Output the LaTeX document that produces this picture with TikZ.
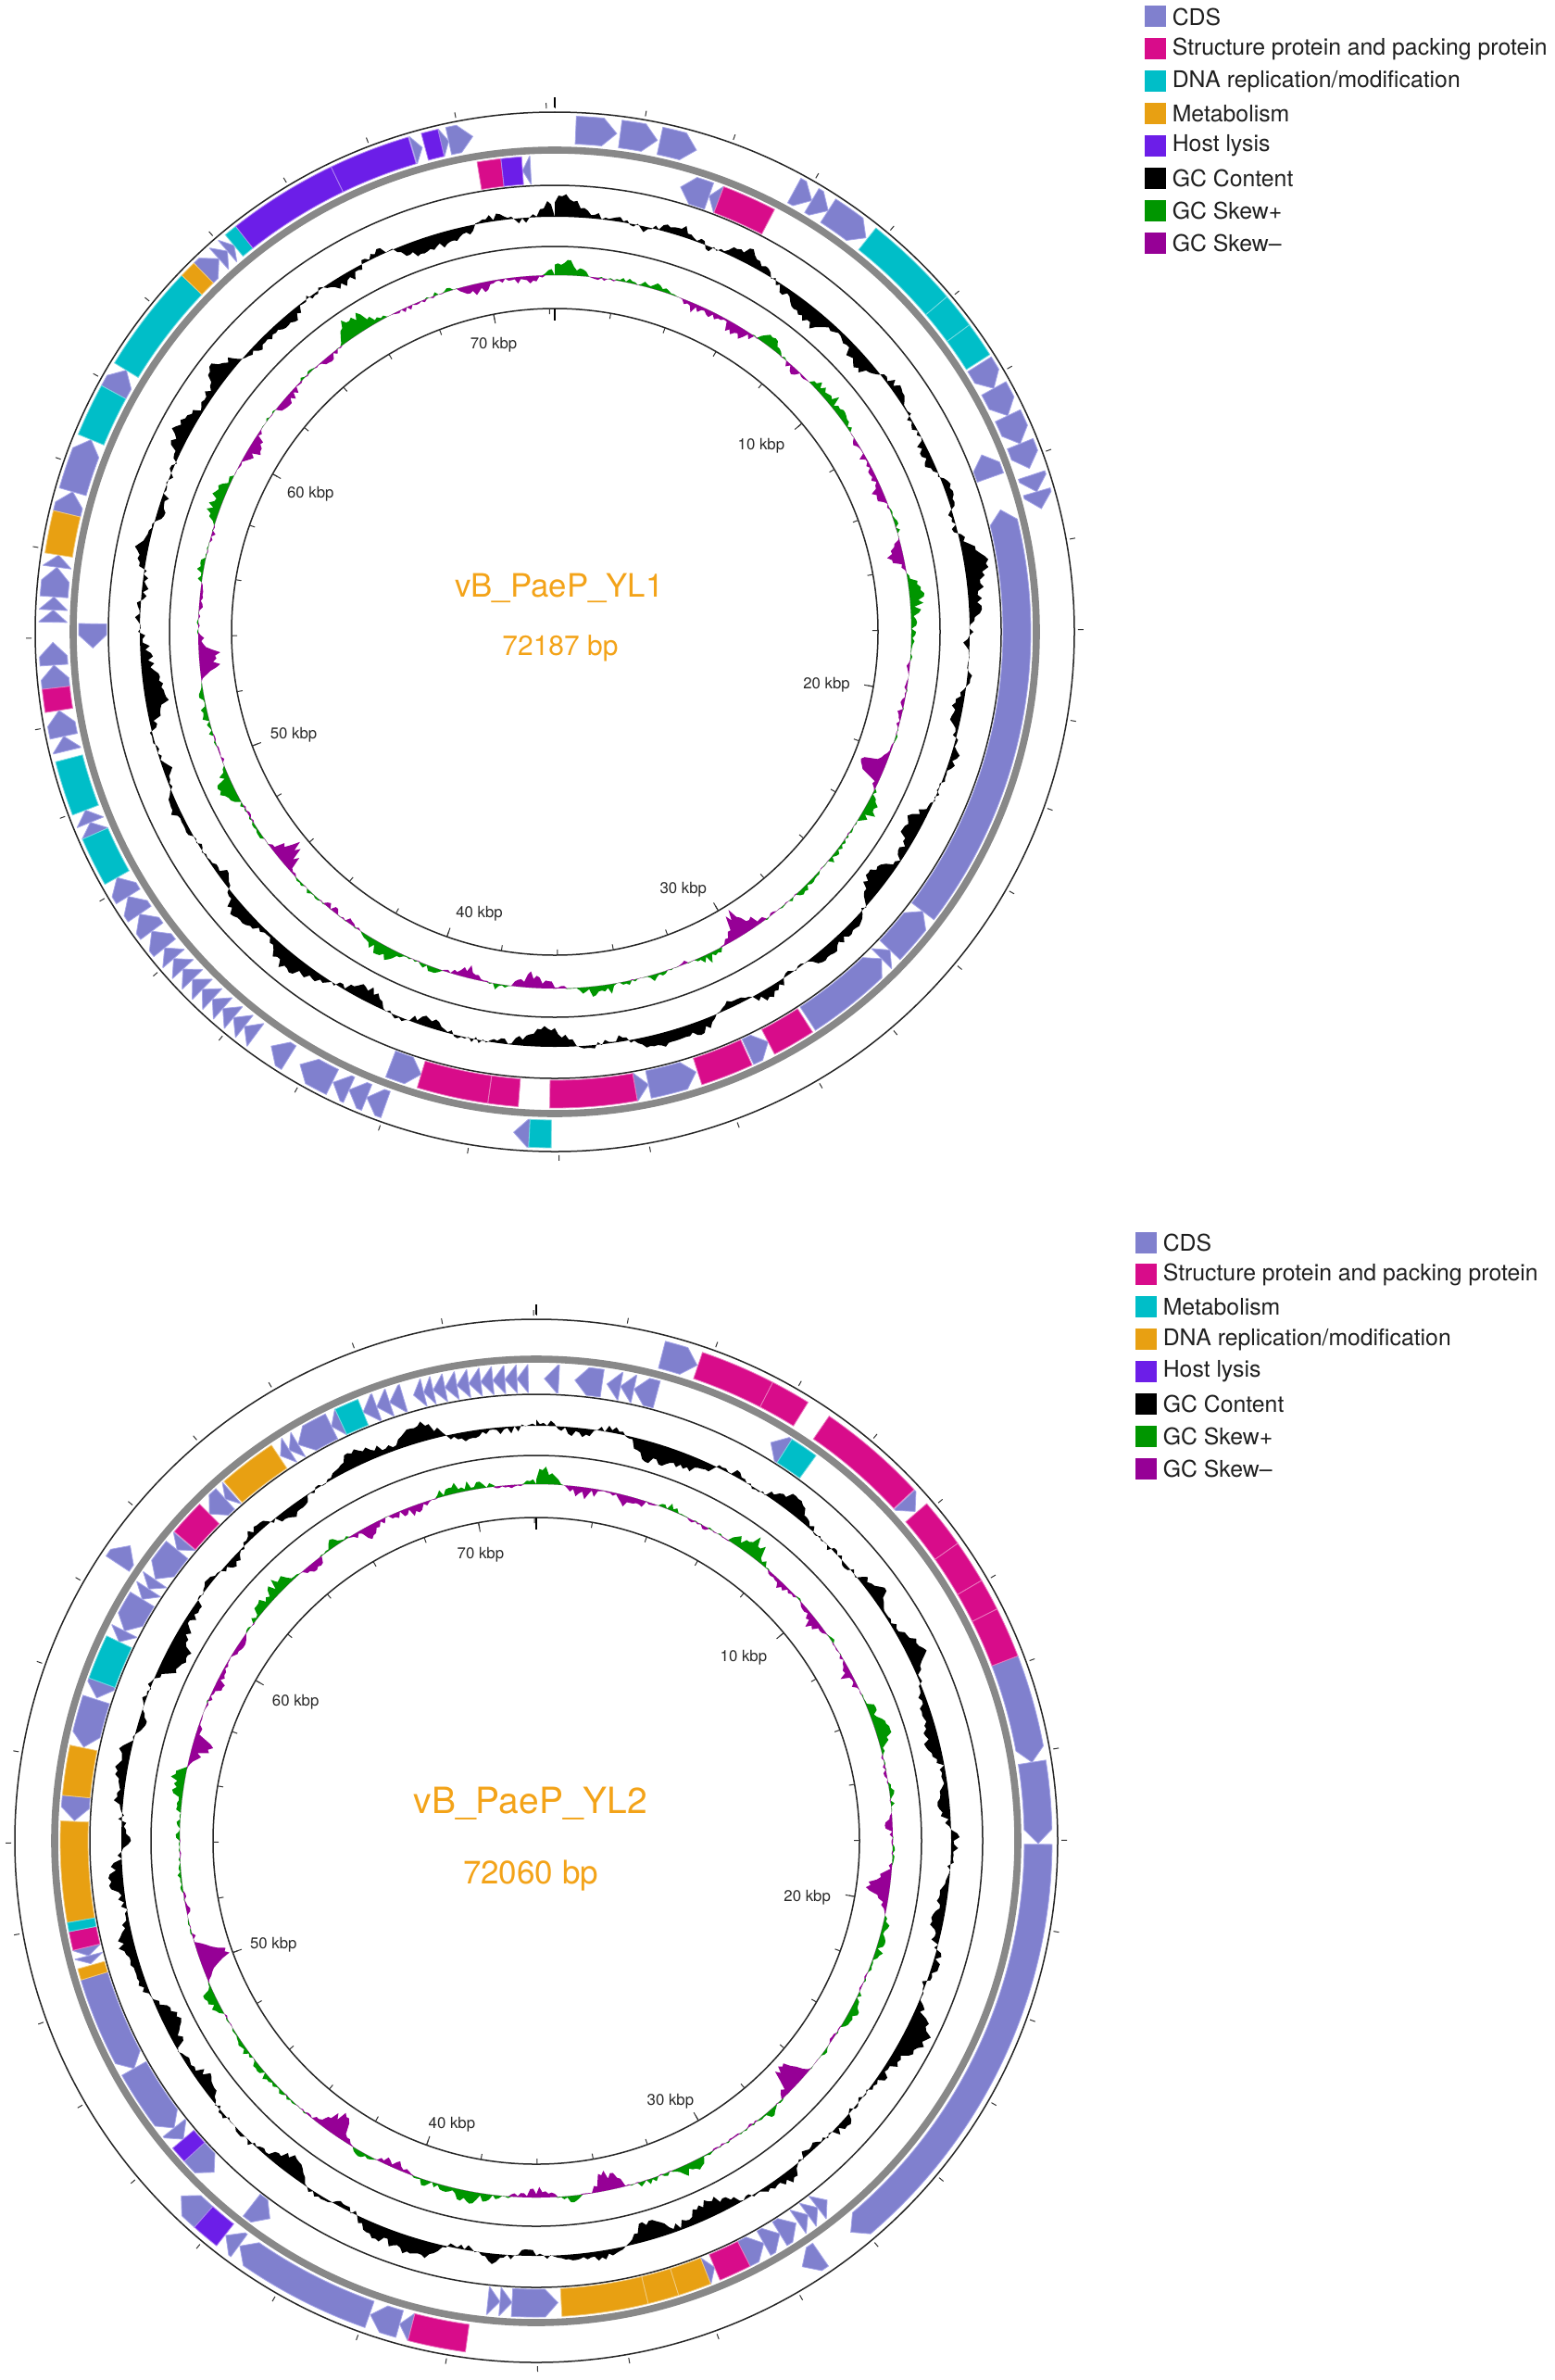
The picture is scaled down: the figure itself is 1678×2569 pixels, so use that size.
\documentclass[tikz,border=0pt]{standalone}
\usepackage{fontspec}
\setmainfont{TeX Gyre Heros}
\usetikzlibrary{positioning}

\definecolor{cdscol}{RGB}{128,128,206}
\definecolor{cdsedge}{RGB}{165,165,232}
\definecolor{strucol}{RGB}{216,12,138}
\definecolor{cyancol}{RGB}{0,190,200}
\definecolor{orangecol}{RGB}{232,160,18}
\definecolor{lysiscol}{RGB}{108,30,232}
\definecolor{skewp}{RGB}{0,150,0}
\definecolor{skewm}{RGB}{150,0,150}
\definecolor{titlecol}{RGB}{243,163,25}
\definecolor{bbgray}{RGB}{136,136,136}
\definecolor{labgray}{RGB}{40,40,40}

% ring radii (px)
\newcommand\rfi{527}\newcommand\rfo{557}\newcommand\rfm{542}
\newcommand\rri{484}\newcommand\rro{514}\newcommand\rrm{499}
\newcommand\headlen{1.6}

% forward CDS arrow, clockwise, from #1 to #2 degrees
\newcommand\fwdcds[2]{%
  \pgfmathsetmacro\ga{90-#1}\pgfmathsetmacro\gb{90-#2}%
  \pgfmathsetmacro\gc{90-max(#1+0.05,#2-\headlen)}%
  \filldraw[cdsgene] (\ga:\rfi) arc[start angle=\ga,end angle=\gc,radius=\rfi]
    -- (\gb:\rfm) -- (\gc:\rfo) arc[start angle=\gc,end angle=\ga,radius=\rfo] -- cycle;}
% reverse CDS arrow, head at #1
\newcommand\revcds[2]{%
  \pgfmathsetmacro\ga{90-#1}\pgfmathsetmacro\gb{90-#2}%
  \pgfmathsetmacro\gc{90-min(#2-0.05,#1+\headlen)}%
  \filldraw[cdsgene] (\gb:\rri) arc[start angle=\gb,end angle=\gc,radius=\rri]
    -- (\ga:\rrm) -- (\gc:\rro) arc[start angle=\gc,end angle=\gb,radius=\rro] -- cycle;}
\newcommand\fwdblock[3]{%
  \pgfmathsetmacro\ga{90-#1}\pgfmathsetmacro\gb{90-#2}%
  \filldraw[fill=#3,draw=#3!55!white,line width=0.4pt] (\ga:\rfi) arc[start angle=\ga,end angle=\gb,radius=\rfi]
    -- (\gb:\rfo) arc[start angle=\gb,end angle=\ga,radius=\rfo] -- cycle;}
\newcommand\revblock[3]{%
  \pgfmathsetmacro\ga{90-#1}\pgfmathsetmacro\gb{90-#2}%
  \filldraw[fill=#3,draw=#3!55!white,line width=0.4pt] (\ga:\rri) arc[start angle=\ga,end angle=\gb,radius=\rri]
    -- (\gb:\rro) arc[start angle=\gb,end angle=\ga,radius=\rro] -- cycle;}

\tikzset{
  cdsgene/.style={fill=cdscol,draw=cdsedge,line width=0.4pt},
  ring/.style={line width=0.75pt,draw=black!85},
  backbone/.style={line width=3.8pt,draw=bbgray},
  tickline/.style={line width=0.5pt,draw=black!80},
  bigtick/.style={line width=1.2pt,draw=black},
  kbplabel/.style={font=\fontsize{8.4}{10}\selectfont,text=labgray},
  legkey/.style={minimum size=11.5pt,inner sep=0pt},
  legtext/.style={font=\fontsize{12.4}{14}\selectfont,text=black!88,inner sep=0pt},
}

\begin{document}
\begin{tikzpicture}[x=0.5pt,y=0.5pt]
\useasboundingbox (0,0) rectangle (1678,-2569);

% ===== vB_PaeP_YL1 =====
\begin{scope}[shift={(599,-682)}]
  % GC content
  \pgfmathsetseed{3}
  \fill[black,even odd rule] (90:448) \foreach \i [evaluate=\i as \f using {sin(2.5*\i+40)+0.9*sin(6.5*\i+100)+0.7*sin(13.5*\i+20)+0.5*sin(20.5*\i+75)},
      evaluate=\i as \v using {448+7*\f+0.3*\f*\f*\f+4*rand}] in {0,...,719} { -- ({90-\i/2}:\v) } -- cycle (0,0) circle[radius=448];
  % GC skew
  \pgfmathsetseed{5}
  \fill[skewp,even odd rule] (90:385) \foreach \i [evaluate=\i as \g using {sin(4.5*\i+20)+0.8*sin(10.5*\i+70)+0.7*sin(15.5*\i+10)+0.5*sin(20*\i+50)},
      evaluate=\i as \v using {385+max(0,3.5*\g+0.8*\g*\g*\g+2*rand*(1+abs(\g)))}] in {0,...,719} { -- ({90-\i/2}:\v) } -- cycle (0,0) circle[radius=385];
  \pgfmathsetseed{5}
  \fill[skewm,even odd rule] (90:385) \foreach \i [evaluate=\i as \g using {sin(4.5*\i+20)+0.8*sin(10.5*\i+70)+0.7*sin(15.5*\i+10)+0.5*sin(20*\i+50)},
      evaluate=\i as \v using {385+min(0,3.5*\g+0.8*\g*\g*\g+2*rand*(1+abs(\g)))}] in {0,...,719} { -- ({90-\i/2}:\v) } -- cycle (0,0) circle[radius=385];

  \draw[ring] (0,0) circle[radius=561];
  \draw[ring] (0,0) circle[radius=482];
  \draw[ring] (0,0) circle[radius=416];
  \draw[ring] (0,0) circle[radius=349];
  \draw[backbone] (0,0) circle[radius=520];

  % ticks every 2 kbp
  \foreach \k in {0,...,36} {
    \draw[tickline] ({90-\k*9.97409}:565) -- ({90-\k*9.97409}:571);
    \draw[tickline] ({90-\k*9.97409}:349) -- ({90-\k*9.97409}:343);
  }
  \foreach \k in {5,10,...,35} \draw[tickline] ({90-\k*9.97409}:349) -- ({90-\k*9.97409}:339);
  \draw[bigtick] (90:566) -- (90:577);
  \draw[bigtick] (90:349) -- (90:336);
  \foreach \n/\t/\r in {10/48/300,20/101/299,30/153.5/311,40/195/315,50/248.5/303,60/299.5/303,70/348/317}
    \node[kbplabel] (ya\n) at ({90-\t}:\r) {\n{} kbp};

  % forward strand
  \foreach \a/\b in {2.4/7.1,7.5/11.8,12.1/16.4,28.5/30.8,30.8/33,33/38.3,57.8/61,61/64.5,64.5/68,68/71,71.8/73.8,73.8/75.8,
      182.9/184.7,199.7/202,202/204.2,204.2/206.2,206.3/210.5,212/214.4,216.6/218.2,218.2/219.8,219.8/221.4,221.4/223,
      223/224.6,224.6/226.2,226.2/227.8,227.8/229.4,229.4/231,231/233.4,233.4/235.8,235.8/238.2,238.2/240.7,246.3/247.7,
      247.7/249.2,256.3/258,258/261,263.6/266.2,266.2/268.8,271.1/272.5,272.5/274,274/277.4,277.4/278.8,283.6/286.2,
      286.2/292.5,298.5/301.4,315.6/318,318/319.3,319.3/320.3,343.6/344.7,346.9/347.8,347.8/350.6}
    {\fwdcds{\a}{\b}}
  \foreach \a/\b/\c in {38.5/49.5/cyancol,49.5/53.5/cyancol,53.5/57.5/cyancol,180.4/182.9/cyancol,240.7/246.3/cyancol,
      249.2/255.4/cyancol,292.5/298.5/cyancol,301.4/313.7/cyancol,320.3/321.8/cyancol,278.8/283.6/orangecol,
      313.7/315.6/orangecol,261/263.6/strucol,321.8/334.3/lysiscol,334.3/343.5/lysiscol,345/346.9/lysiscol}
    {\fwdblock{\a}{\b}{\c}}
  % reverse strand
  \foreach \a/\b in {356/357,15.8/19.5,19.5/20.8,67.5/70.5,74.7/127.2,127.2/133.5,133.5/135,135/146.8,152.5/155.3,
      162.2/168.3,168.3/170,196.8/200.8,268/271}
    {\revcds{\a}{\b}}
  \foreach \a/\b/\c in {350.6/353.5/strucol,353.5/356/lysiscol,20.8/27.5/strucol,147.2/152.5/strucol,155.5/162/strucol,
      170/180.6/strucol,184.4/188.1/strucol,188.1/196.8/strucol}
    {\revblock{\a}{\b}{\c}}

  \node[font=\fontsize{17.4}{20}\selectfont,text=titlecol] (yl1name) at (5,47) {vB\_PaeP\_YL1};
  \node[font=\fontsize{15}{18}\selectfont,text=titlecol] (yl1size) at (6,-18) {72187 bp};
\end{scope}

% ===== vB_PaeP_YL2 =====
\begin{scope}[shift={(579,-1987)}]
  \pgfmathsetseed{17}
  \fill[black,even odd rule] (90:448) \foreach \i [evaluate=\i as \f using {sin(2.5*\i+200)+0.9*sin(6.5*\i+10)+0.7*sin(13.5*\i+130)+0.5*sin(20.5*\i+15)},
      evaluate=\i as \v using {448+7*\f+0.3*\f*\f*\f+4*rand}] in {0,...,719} { -- ({90-\i/2}:\v) } -- cycle (0,0) circle[radius=448];
  \pgfmathsetseed{29}
  \fill[skewp,even odd rule] (90:385) \foreach \i [evaluate=\i as \g using {sin(4.5*\i+150)+0.8*sin(10.5*\i+30)+0.7*sin(15.5*\i+80)+0.5*sin(20*\i+5)},
      evaluate=\i as \v using {385+max(0,3.5*\g+0.8*\g*\g*\g+2*rand*(1+abs(\g)))}] in {0,...,719} { -- ({90-\i/2}:\v) } -- cycle (0,0) circle[radius=385];
  \pgfmathsetseed{29}
  \fill[skewm,even odd rule] (90:385) \foreach \i [evaluate=\i as \g using {sin(4.5*\i+150)+0.8*sin(10.5*\i+30)+0.7*sin(15.5*\i+80)+0.5*sin(20*\i+5)},
      evaluate=\i as \v using {385+min(0,3.5*\g+0.8*\g*\g*\g+2*rand*(1+abs(\g)))}] in {0,...,719} { -- ({90-\i/2}:\v) } -- cycle (0,0) circle[radius=385];

  \draw[ring] (0,0) circle[radius=563];
  \draw[ring] (0,0) circle[radius=482];
  \draw[ring] (0,0) circle[radius=416];
  \draw[ring] (0,0) circle[radius=349];
  \draw[backbone] (0,0) circle[radius=520];

  \foreach \k in {0,...,36} {
    \draw[tickline] ({90-\k*9.99167}:567) -- ({90-\k*9.99167}:573);
    \draw[tickline] ({90-\k*9.99167}:349) -- ({90-\k*9.99167}:343);
  }
  \foreach \k in {5,10,...,35} \draw[tickline] ({90-\k*9.99167}:349) -- ({90-\k*9.99167}:339);
  \draw[bigtick] (90:568) -- (90:579);
  \draw[bigtick] (90:349) -- (90:336);
  \foreach \n/\t/\r in {10/48.5/299,20/101.8/299,30/152.7/316,40/196.6/319,50/248.5/305,60/300/300,70/349/315}
    \node[kbplabel] (yb\n) at ({90-\t}:\r) {\n{} kbp};

  % forward strand
  \foreach \a/\b in {14.5/18.7,47.2/49,69/81,81/90.3,90.4/141.2,145.5/148,194.4/195.8,195.8/199.3,199.4/216.2,
      216.3/218.2,221.5/225,303.5/306}
    {\fwdcds{\a}{\b}}
  \foreach \a/\b/\c in {18.8/27.3/strucol,27.3/31.8/strucol,34.6/47.1/strucol,49.2/54.8/strucol,54.8/59.7/strucol,
      59.7/63.3/strucol,63.3/69/strucol,187.9/194.4/strucol,218.3/221.5/lysiscol}
    {\fwdblock{\a}{\b}{\c}}
  % reverse strand
  \foreach \a/\b in {344.6/345.9,345.9/347.1,347.1/348.6,348.6/350.1,350.1/351.6,351.6/353.1,353.1/354.6,354.6/356.1,
      356.1/357.6,357.6/359,1/2.8,4.8/8.2,8.8/10.5,10.5/12.2,12.2/15.1,30.5/32.5,141/142.5,142.5/144,144/145.5,
      145.8/148.2,148.2/150.5,150.5/153.3,157.3/158.5,177.3/183,183/184.5,184.5/186,215.2/218,224.2/227.7,229.8/231.6,
      231.6/240.5,240.5/253,254.6/255.6,255.6/256.7,272.5/275.5,281.7/287.8,288/290,295.5/297,297/301.5,301.5/303,
      303/304.4,304.5/309,309/310.4,315/317.7,317.7/318.8,326.4/327.7,327.7/329,329/333.7,333.7/335,338/339.8,
      339.8/341.5,341.5/343.3}
    {\revcds{\a}{\b}}
  \foreach \a/\b/\c in {153.3/157.3/strucol,256.7/259/strucol,310.5/315/strucol,158.5/162.6/orangecol,
      162.6/166.4/orangecol,166.4/176.9/orangecol,253/254.4/orangecol,260.1/272.4/orangecol,275.5/281.6/orangecol,
      319/326.2/orangecol,32.5/36/cyancol,259/260.1/cyancol,290/295.5/cyancol,335/338/cyancol,227.7/229.8/lysiscol}
    {\revblock{\a}{\b}{\c}}

  \node[font=\fontsize{19.5}{22}\selectfont,text=titlecol] (yl2name) at (-6,40) {vB\_PaeP\_YL2};
  \node[font=\fontsize{17.5}{20}\selectfont,text=titlecol] (yl2size) at (-6,-38) {72060 bp};
\end{scope}

% legends
\foreach \lab/\col [count=\n] in {CDS/cdscol,Structure protein and packing protein/strucol,
    {DNA replication/modification}/cyancol,Metabolism/orangecol,Host lysis/lysiscol,GC Content/black,
    GC Skew+/skewp,GC Skew--/skewm} {
  \node[legkey,fill=\col] (ka\n) at (1247.5,{-18-34.9*(\n-1)}) {};
  \node[legtext,right=3pt of ka\n] (ta\n) {\lab};
}
\foreach \lab/\col [count=\n] in {CDS/cdscol,Structure protein and packing protein/strucol,
    Metabolism/cyancol,{DNA replication/modification}/orangecol,Host lysis/lysiscol,GC Content/black,
    GC Skew+/skewp,GC Skew--/skewm} {
  \node[legkey,fill=\col] (kb\n) at (1237.5,{-1341-34.9*(\n-1)}) {};
  \node[legtext,right=3pt of kb\n] (tb\n) {\lab};
}
\end{tikzpicture}
\end{document}
